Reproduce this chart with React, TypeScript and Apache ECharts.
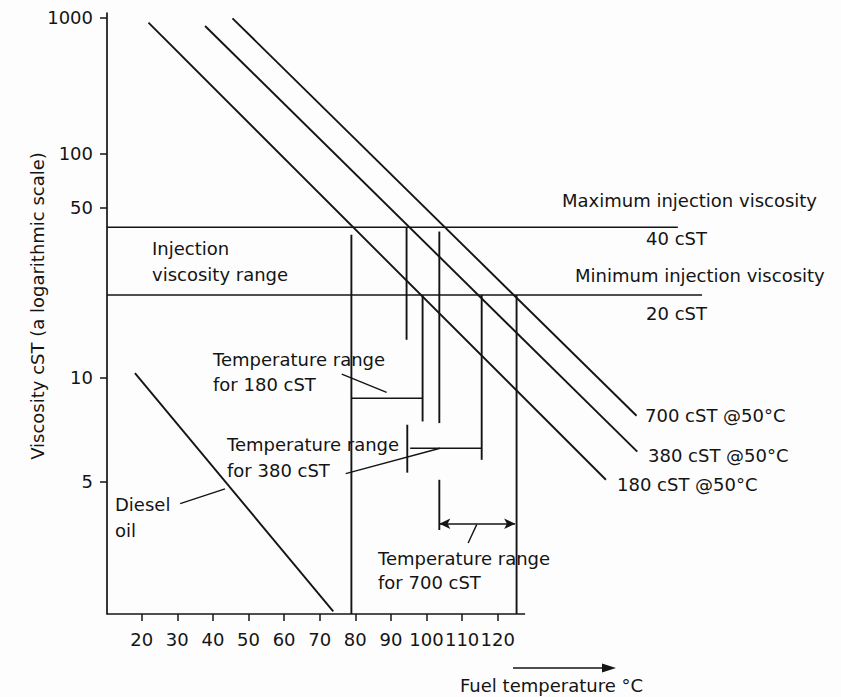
import React, { useEffect, useRef } from "react";
import * as echarts from "echarts";

// ---------- data (temperature °C, viscosity cST) ----------
const tempTicks = [20, 30, 40, 50, 60, 70, 80, 90, 100, 110, 120];
const viscTicks = [5, 10, 50, 100, 1000];
const TEMP_MIN = 10.25;
const TEMP_AXIS_END = 127.7;
const TEMP_MAX = 180;
const VISC_MIN = 2.54;
const VISC_MAX = 1095;

const fuel180 = [[21.9, 898], [150.4, 5.06]];
const fuel380 = [[37.8, 840], [159.2, 6.01]];
const fuel700 = [[45.5, 981], [159.0, 7.61]];
const dieselOil = [[18.1, 10.36], [73.8, 2.57]];

const maxInjection = [[TEMP_MIN, 40], [170.6, 40]];
const minInjection = [[TEMP_MIN, 20], [177.4, 20]];

const range180Low = [[78.9, 36.8], [78.9, VISC_MIN]];
const range180High = [[98.9, 20], [98.9, 7.32]];
const range180Bar = [[78.9, 8.61], [98.9, 8.61]];
const range380Low = [[94.4, 40], [94.4, 13.5]];
const range380LowTick = [[94.6, 7.16], [94.6, 5.28]];
const range380High = [[115.5, 20], [115.5, 5.71]];
const range380Bar = [[95.4, 6.14], [115.5, 6.14]];
const range700Low = [[103.6, 38.1], [103.6, 7.24]];
const range700LowTick = [[103.6, 5.06], [103.6, 3.82]];
const range700High = [[125.3, 20], [125.3, VISC_MIN]];
const range700Arrow = [[103.6, 3.95], [124.9, 3.95]];

const leader180 = [[76.2, 10.28], [88.8, 8.97]];
const leader380 = [[77.3, 5.25], [103.8, 6.14]];
const leader700 = [[111.7, 3.57], [114.1, 3.93]];
const leaderDiesel = [[30.8, 4.41], [43.4, 4.8]];

const xAxisLine = [[TEMP_MIN, VISC_MIN], [TEMP_AXIS_END, VISC_MIN]];

// ASTM D341 (Walther) viscosity scale
const astm = (v: number) => Math.log10(Math.log10(v + 0.7));
const inv = (f: number) => Math.pow(10, Math.pow(10, f)) - 0.7;

const INK = "#141414";
const FONT = "DejaVu Sans";

function seg(name: string, pts: number[][], width = 1.6) {
  return {
    type: "line",
    name,
    data: pts.map((p) => [p[0], astm(p[1])]),
    showSymbol: false,
    symbol: "none",
    clip: false,
    silent: true,
    lineStyle: { color: INK, width },
    z: 3,
  };
}

function txt(text: string, x: number, y: number, lineHeight = 25, verticalAlign = "top") {
  return {
    type: "text",
    x,
    y,
    silent: true,
    style: {
      text,
      fill: INK,
      fontSize: 18,
      fontFamily: FONT,
      lineHeight,
      align: "left",
      verticalAlign,
    },
  };
}

export default function App() {
  const ref = useRef<HTMLDivElement>(null);

  useEffect(() => {
    if (!ref.current) return;
    const chart = echarts.init(ref.current, null, { renderer: "svg" });
    const yTickVals = viscTicks.map(astm);

    chart.setOption({
      animation: false,
      backgroundColor: "#fdfdfd",
      grid: { left: 107, right: 129.7, top: 13, bottom: 83, containLabel: false },
      xAxis: {
        type: "value",
        min: TEMP_MIN,
        max: TEMP_MAX,
        axisLine: { show: false, onZero: false },
        axisTick: { show: true, length: 7, customValues: tempTicks, lineStyle: { color: INK, width: 1.5 } },
        axisLabel: {
          customValues: tempTicks,
          color: INK,
          fontSize: 18,
          fontFamily: FONT,
          margin: 16,
        },
        splitLine: { show: false },
      },
      yAxis: {
        type: "value",
        min: astm(VISC_MIN),
        max: astm(VISC_MAX),
        axisLine: { show: true, onZero: false, lineStyle: { color: INK, width: 1.7 } },
        axisTick: { show: true, length: 7, customValues: yTickVals, lineStyle: { color: INK, width: 1.5 } },
        axisLabel: {
          customValues: yTickVals,
          color: INK,
          fontSize: 18,
          fontFamily: FONT,
          margin: 14,
          formatter: (val: number) => String(Math.round(inv(val))),
        },
        splitLine: { show: false },
      },
      series: [
        seg("x axis", xAxisLine, 1.7),
        seg("180 cST @50°C", fuel180, 1.9),
        seg("380 cST @50°C", fuel380, 1.9),
        seg("700 cST @50°C", fuel700, 1.9),
        seg("Diesel oil", dieselOil, 1.9),
        seg("Maximum injection viscosity", maxInjection, 1.5),
        seg("Minimum injection viscosity", minInjection, 1.5),
        seg("r180a", range180Low, 1.9),
        seg("r180b", range180High, 1.9),
        seg("r180c", range180Bar, 1.5),
        seg("r380a", range380Low, 1.9),
        seg("r380b", range380LowTick, 1.9),
        seg("r380c", range380High, 1.9),
        seg("r380d", range380Bar, 1.5),
        seg("r700a", range700Low, 1.9),
        seg("r700b", range700LowTick, 1.9),
        seg("r700c", range700High, 1.9),
        seg("l180", leader180, 1.4),
        seg("l380", leader380, 1.4),
        seg("l700", leader700, 1.4),
        seg("ldiesel", leaderDiesel, 1.4),
        {
          type: "line",
          name: "r700arrow",
          data: [],
          silent: true,
          markLine: {
            silent: true,
            animation: false,
            symbol: ["arrow", "arrow"],
            symbolSize: [8, 11],
            label: { show: false },
            lineStyle: { color: INK, width: 1.5, type: "solid" },
            data: [
              [
                { coord: [range700Arrow[0][0], astm(range700Arrow[0][1])] },
                { coord: [range700Arrow[1][0], astm(range700Arrow[1][1])] },
              ],
            ],
          },
        },
      ],
      graphic: [
        {
          type: "text",
          x: 37,
          y: 306,
          rotation: Math.PI / 2,
          silent: true,
          style: {
            text: "Viscosity cST (a logarithmic scale)",
            fill: INK,
            fontSize: 18,
            fontFamily: FONT,
            align: "center",
            verticalAlign: "middle",
          },
        },
        txt("Injection\nviscosity range", 152, 235, 26),
        txt("Maximum injection viscosity", 562, 200, 22, "middle"),
        txt("40 cST", 646, 238, 22, "middle"),
        txt("Minimum injection viscosity", 575, 275, 22, "middle"),
        txt("20 cST", 646, 313, 22, "middle"),
        txt("Temperature range\nfor 180 cST", 213, 346.5, 25),
        txt("Temperature range\nfor 380 cST", 227, 432, 25.7),
        txt("Temperature range\nfor 700 cST", 378, 546, 24),
        txt("Diesel\noil", 115, 491, 26),
        txt("700 cST @50°C", 645, 415, 22, "middle"),
        txt("380 cST @50°C", 648, 455, 22, "middle"),
        txt("180 cST @50°C", 617, 484, 22, "middle"),
        txt("Fuel temperature °C", 460, 685, 22, "middle"),
        {
          type: "line",
          silent: true,
          shape: { x1: 513, y1: 668, x2: 604, y2: 668 },
          style: { stroke: INK, lineWidth: 1.5 },
        },
        {
          type: "polygon",
          silent: true,
          shape: { points: [[602, 663.5], [616, 668], [602, 672.5]] },
          style: { fill: INK },
        },
      ],
    });

    return () => chart.dispose();
  }, []);

  return (
    <div
      ref={ref}
      style={{ position: "fixed", left: 0, top: 0, width: 841, height: 697 }}
    />
  );
}
